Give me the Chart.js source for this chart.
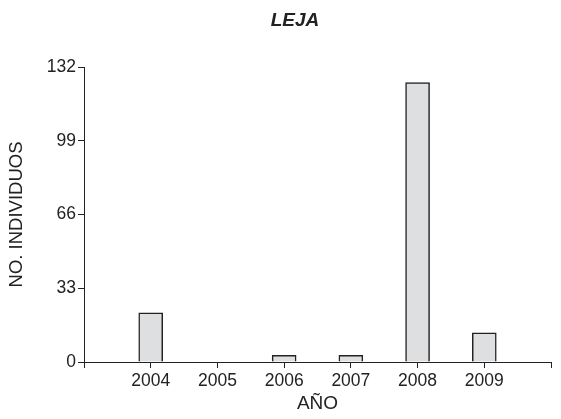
<!DOCTYPE html>
<html>
<head>
<meta charset="utf-8">
<script src="https://cdn.jsdelivr.net/npm/chart.js@4"></script>
<style>
    html, body { margin: 0; padding: 0; background: #fff; }
    #wrap { width: 561px; height: 419px; }
</style>
</head>
<body>
<div id="wrap"><canvas id="lejaChart" width="561" height="419"></canvas></div>
<script>
// Yearly counts for LEJA
const years = ['2004', '2005', '2006', '2007', '2008', '2009'];
const counts = [22, 0, 3, 3, 125, 13];
const yTicks = [0, 33, 66, 99, 132];

const FONT = "'Liberation Sans', Arial, sans-serif";
const INK = '#222';

// one empty slot on each side so the years sit inside the axis
const labels = [''].concat(years, ['']);
const values = [null].concat(counts, [null]);

// title drawn by hand, it sits a bit left of the plot centre
const titlePlugin = {
    id: 'lejaTitle',
    afterDraw(chart) {
        const ctx = chart.ctx;
        ctx.save();
        ctx.font = 'italic bold 19px ' + FONT;
        ctx.fillStyle = INK;
        ctx.textAlign = 'center';
        ctx.textBaseline = 'middle';
        ctx.fillText('LEJA', 295, 21);
        ctx.restore();
    }
};

Chart.defaults.font.family = FONT;
Chart.defaults.color = INK;

new Chart(document.getElementById('lejaChart'), {
    type: 'bar',
    data: {
        labels: labels,
        datasets: [{
            data: values,
            backgroundColor: '#dedfe0',
            borderColor: INK,
            borderWidth: 1.5,
            barThickness: 24
        }]
    },
    options: {
        responsive: false,
        animation: false,
        layout: { padding: { top: 67, right: 10, left: 0, bottom: 0 } },
        plugins: { legend: { display: false }, tooltip: { enabled: false } },
        scales: {
            x: {
                offset: false,
                grid: { display: true, offset: false, drawOnChartArea: false, tickLength: 6, tickColor: INK, tickWidth: 1 },
                border: { color: INK, width: 1 },
                ticks: { font: { size: 17.5 }, padding: 3, maxRotation: 0, autoSkip: false },
                title: { display: true, text: 'AÑO', font: { size: 19 }, padding: { top: 0, bottom: 4 } },
                afterFit(scale) { scale.height = 57; }
            },
            y: {
                min: 0,
                max: 132,
                afterBuildTicks(scale) { scale.ticks = yTicks.map(v => ({ value: v })); },
                grid: { display: true, drawOnChartArea: false, tickLength: 6, tickColor: INK, tickWidth: 1 },
                border: { color: INK, width: 1 },
                ticks: { font: { size: 17.5 }, padding: 2 },
                title: { display: true, text: 'NO. INDIVIDUOS', font: { size: 18.5 }, padding: { top: 6, bottom: 0 } },
                afterFit(scale) { scale.width = 84; }
            }
        }
    },
    plugins: [titlePlugin]
});
</script>
</body>
</html>
